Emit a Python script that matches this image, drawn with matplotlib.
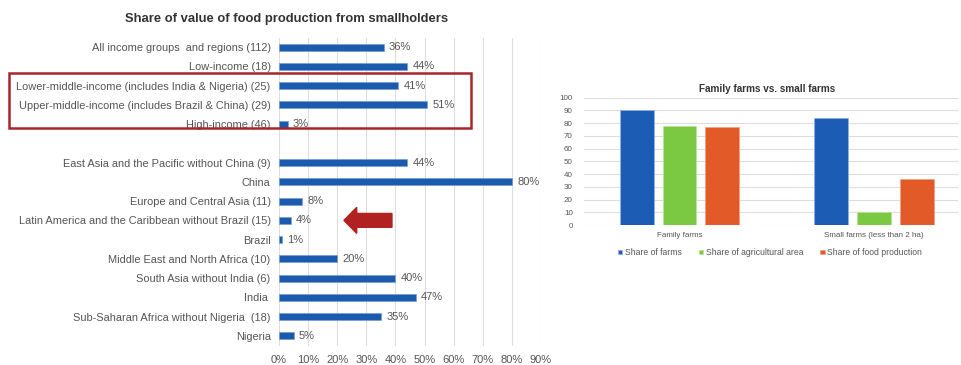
import numpy as np
import matplotlib.pyplot as plt
from matplotlib.patches import Rectangle, FancyArrow

plt.rcParams['font.family'] = ['Liberation Sans', 'DejaVu Sans']

# left chart data
regions = ["All income groups  and regions (112)", "Low-income (18)",
           "Lower-middle-income (includes India & Nigeria) (25)",
           "Upper-middle-income (includes Brazil & China) (29)",
           "High-income (46)", "",
           "East Asia and the Pacific without China (9)", "China",
           "Europe and Central Asia (11)",
           "Latin America and the Caribbean without Brazil (15)", "Brazil",
           "Middle East and North Africa (10)", "South Asia without India (6)",
           "India ", "Sub-Saharan Africa without Nigeria  (18)", "Nigeria"]
share = [36, 44, 41, 51, 3, None, 44, 80, 8, 4, 1, 20, 40, 47, 35, 5]
xticks = [0, 10, 20, 30, 40, 50, 60, 70, 80, 90]

# right chart data
farm_groups = ["Family farms", "Small farms (less than 2 ha)"]
series_names = ["Share of farms", "Share of agricultural area", "Share of food production"]
share_farms = [90, 84]
share_area = [78, 10]
share_food = [77, 36]
yticks = [0, 10, 20, 30, 40, 50, 60, 70, 80, 90, 100]

W, H = 961, 365
fig = plt.figure(figsize=(W / 100, H / 100), dpi=100)

def box(x0, y0, x1, y1):
    return [x0 / W, 1 - y1 / H, (x1 - x0) / W, (y1 - y0) / H]

blue = '#1b5aad'
grey = '#555555'

#left plot
ax = fig.add_axes(box(279, 37.5, 541, 345.5))
n = len(regions)
ypos = np.arange(n)
for i, v in enumerate(share):
    if v is None:
        continue
    ax.barh(i, v, height=0.37, color=blue, edgecolor='#6d9bd6', linewidth=0.4)
    ax.text(v + 1.8, i, "%d%%" % v, va='center', ha='left', fontsize=8, color=grey)
ax.set_ylim(n - 0.5, -0.5)
ax.set_xlim(0, 90)
ax.set_yticks(ypos)
ax.set_yticklabels(regions, fontsize=7.9, color=grey)
ax.set_xticks(xticks)
ax.set_xticklabels(["%d%%" % t for t in xticks], fontsize=8, color=grey)
ax.tick_params(length=0, pad=6)
ax.tick_params(axis='x', pad=7)
ax.grid(axis='x', color='#dddddd', linewidth=0.8)
ax.set_axisbelow(True)
for s in ax.spines.values():
    s.set_visible(False)
ax.set_title("Share of value of food production from smallholders", fontsize=9.4,
             fontweight='bold', color='#333333', pad=11, x=0.03)

# red highlight box and arrow
fig.patches.append(Rectangle((9 / W, 1 - 128 / H), (471 - 9) / W, (128 - 73) / H,
                             transform=fig.transFigure, fill=False,
                             edgecolor='#a8262a', linewidth=1.8))
row = regions.index("Latin America and the Caribbean without Brazil (15)")
ax.add_patch(FancyArrow(38.8, row, -16.5, 0, width=0.72, head_width=1.35,
                        head_length=4.4, length_includes_head=True,
                        color='#b0211f', clip_on=False))

#right plot
ax2 = fig.add_axes(box(584, 97.7, 958, 225))
x = np.arange(len(farm_groups))
bw = 0.174
off = 0.22
colors = ['#1d5cb4', '#7bc843', '#e25a27']
edges = ['#8fb4e3', '#b9e396', '#f2a27f']
for k, (vals, name) in enumerate(zip([share_farms, share_area, share_food], series_names)):
    ax2.bar(x + (k - 1) * off, vals, width=bw, color=colors[k], edgecolor=edges[k],
            linewidth=0.6, label=name)
ax2.set_xlim(-0.49, 1.43)
ax2.set_ylim(0, 100)
ax2.set_yticks(yticks)
ax2.set_yticklabels([str(t) for t in yticks], fontsize=5.8, color=grey)
ax2.set_xticks(x)
ax2.set_xticklabels(farm_groups, fontsize=5.8, color=grey)
ax2.tick_params(length=0, pad=8)
ax2.tick_params(axis='x', pad=5)
ax2.grid(axis='y', color='#dddddd', linewidth=0.8)
ax2.set_axisbelow(True)
for s in ax2.spines.values():
    s.set_visible(False)
ax2.set_title("Family farms vs. small farms", fontsize=7.2, fontweight='bold',
              color='#333333', pad=4, x=0.49)
ax2.legend(loc='upper center', bbox_to_anchor=(0.497, -0.12), ncol=3, frameon=False,
           fontsize=6.2, handlelength=0.5, handleheight=0.5, handletextpad=0.3,
           columnspacing=2.0, labelcolor=grey)

plt.savefig('out.png', dpi=100)
